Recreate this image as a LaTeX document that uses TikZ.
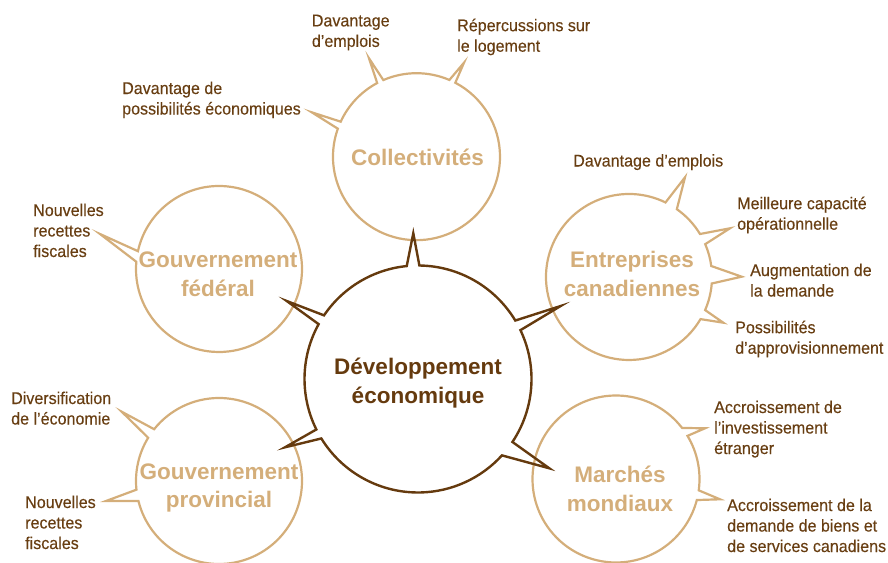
\documentclass[tikz,border=0pt]{standalone}
\usepackage{fontspec}
\setmainfont{Liberation Sans}
\newfontfamily\effetfont[FakeStretch=0.945,FakeBold=0.25]{Liberation Sans}
\usepackage{tikz}
\usetikzlibrary{calc}
\definecolor{devbrown}{RGB}{101,58,14}
\definecolor{labelbrown}{RGB}{104,62,18}
\definecolor{partan}{RGB}{212,174,122}

\begin{document}
\begin{tikzpicture}[x=1pt,y=1pt,
        hubline/.style={draw=devbrown,line width=2.4pt},
        partline/.style={draw=partan,line width=2.2pt},
        hubtext/.style={align=center,text=devbrown,font=\fontsize{22.5}{28.5}\selectfont\bfseries},
        parttext/.style={align=center,text=partan,font=\fontsize{22.5}{28.5}\selectfont\bfseries},
        effet/.style={align=left,anchor=north west,inner sep=0pt,text=labelbrown,font=\effetfont\fontsize{17}{20.5}\selectfont}]
    \useasboundingbox (0,0) rectangle (888,562);

    % centres of the bubbles
    \coordinate (dev)    at (418,183);
    \coordinate (coll)   at (416.5,405.3);
    \coordinate (fed)    at (219,293);
    \coordinate (entr)   at (629,285);
    \coordinate (prov)   at (219,81);
    \coordinate (marche) at (616,83);

    % outer bubbles: spike = low angle / high angle / tip
    \draw[partline] ($(coll)+(0:83.5)$)
        \foreach \lo/\hi/\tx/\ty [remember=\hi as \prev (initially 0)] in
            {62.3/66.8/464/499.3, 113.4/118.1/369/503.7, 155.2/160.4/311.7/449.7}
        { arc[start angle=\prev, end angle=\lo, radius=83.5] -- (\tx,\ty) -- ($(coll)+(\hi:83.5)$) }
        arc[start angle=160.4, end angle=360, radius=83.5] -- cycle;
    \draw[partline] ($(fed)+(0:83)$)
        arc[start angle=0, end angle=167.6, radius=83] -- (100,328) -- ($(fed)+(175:83)$)
        arc[start angle=175, end angle=360, radius=83] -- cycle;
    \draw[partline] ($(prov)+(0:83)$)
        \foreach \lo/\hi/\tx/\ty [remember=\hi as \prev (initially 0)] in
            {141.4/148.6/121.7/150.3, 186/194/106/61}
        { arc[start angle=\prev, end angle=\lo, radius=83] -- (\tx,\ty) -- ($(prov)+(\hi:83)$) }
        arc[start angle=194, end angle=360, radius=83] -- cycle;
    \draw[partline] ($(entr)+(-90:83)$)
        \foreach \lo/\hi/\tx/\ty [remember=\hi as \prev (initially -90)] in
            {-30.5/-23.5/723.3/239.3, -4.5/7.6/741.7/285.3, 23.3/31.2/730/333.7, 54.8/63.9/685/384.7}
        { arc[start angle=\prev, end angle=\lo, radius=83] -- (\tx,\ty) -- ($(entr)+(\hi:83)$) }
        arc[start angle=63.9, end angle=270, radius=83] -- cycle;
    \draw[partline] ($(marche)+(-90:83.5)$)
        \foreach \lo/\hi/\tx/\ty [remember=\hi as \prev (initially -90)] in
            {-14.6/-7.8/720/62.7, 31.1/37.7/705/133.7}
        { arc[start angle=\prev, end angle=\lo, radius=83.5] -- (\tx,\ty) -- ($(marche)+(\hi:83.5)$) }
        arc[start angle=37.7, end angle=270, radius=83.5] -- cycle;

    % central bubble, spikes into the outer ones
    \draw[hubline] ($(dev)+(0:113.5)$)
        \foreach \lo/\hi/\tx/\ty [remember=\hi as \prev (initially 0)] in
            {25.5/31/560.7/256, 89.3/95.7/413.3/328.7, 145.9/151.1/286.7/261,
             206.4/211.6/285/114.7, 317.7/326.3/549.3/93.7}
        { arc[start angle=\prev, end angle=\lo, radius=113.5] -- (\tx,\ty) -- ($(dev)+(\hi:113.5)$) }
        arc[start angle=326.3, end angle=360, radius=113.5] -- cycle;

    \node[hubtext]  (dev-t)    at (418,179)   {Développement\\économique};
    \node[parttext] (coll-t)   at (417.5,405) {Collectivités};
    \node[parttext] (fed-t)    at (218,287.5) {Gouvernement\\fédéral};
    \node[parttext] (entr-t)   at (632,288)   {Entreprises\\canadiennes};
    \node[parttext] (prov-t)   at (219,74)    {Gouvernement\\provincial};
    \node[parttext] (marche-t) at (620,73)    {Marchés\\mondiaux};

    \node[effet] (coll-a)   at (311.7,547.5) {Davantage\\d’emplois};
    \node[effet] (coll-b)   at (457,543.5)   {Répercussions sur\\le logement};
    \node[effet] (coll-c)   at (122,480.5)   {Davantage de\\possibilités économiques};
    \node[effet] (fed-a)    at (33,358.5)    {Nouvelles\\recettes\\fiscales};
    \node[effet] (entr-a)   at (573,408)     {Davantage d’emplois};
    \node[effet] (entr-b)   at (737,365.5)   {Meilleure capacité\\opérationnelle};
    \node[effet] (entr-c)   at (750,298.5)   {Augmentation de\\la demande};
    \node[effet] (entr-d)   at (735,241.5)   {Possibilités\\d’approvisionnement};
    \node[effet] (prov-a)   at (11,170.5)    {Diversification\\de l’économie};
    \node[effet] (prov-b)   at (25,66.5)     {Nouvelles\\recettes\\fiscales};
    \node[effet] (marche-a) at (714,161.5)   {Accroissement de\\l’investissement\\étranger};
    \node[effet] (marche-b) at (727,63.5)    {Accroissement de la\\demande de biens et\\de services canadiens};
\end{tikzpicture}
\end{document}
